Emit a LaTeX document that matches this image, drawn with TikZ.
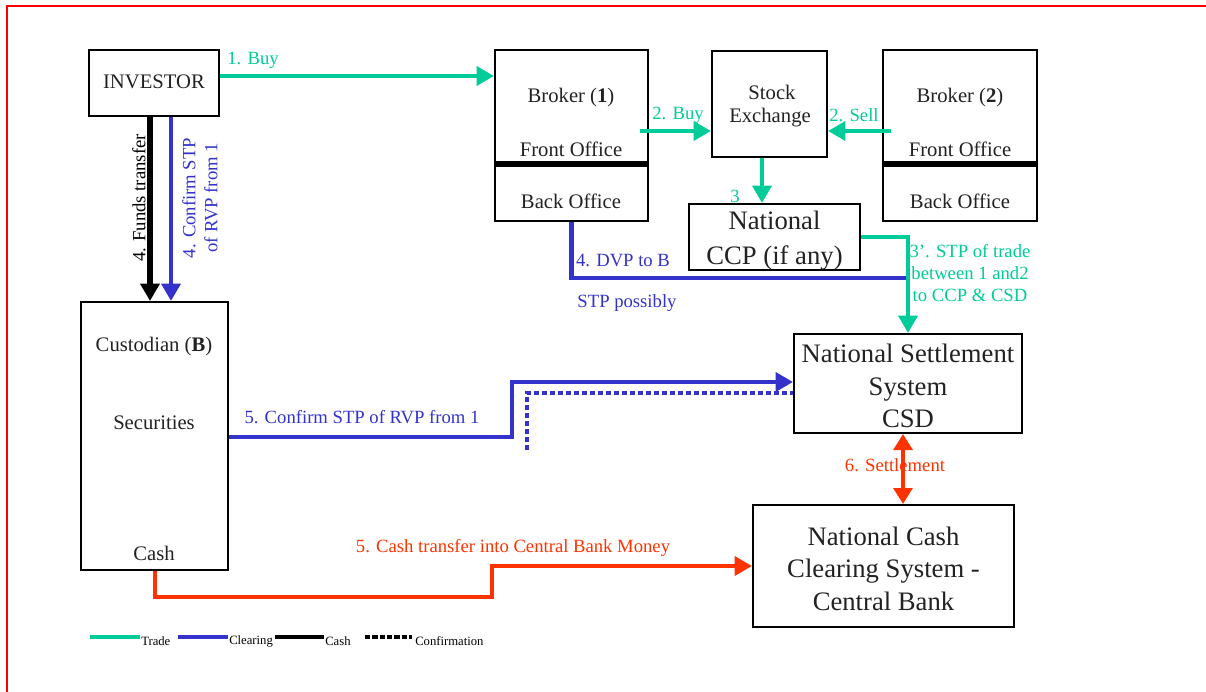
\documentclass[tikz,border=0pt]{standalone}
\usepackage{fontspec}
\setmainfont{Liberation Serif}
\usetikzlibrary{arrows.meta,calc}
\definecolor{cTrade}{RGB}{0,204,153}
\definecolor{cClear}{RGB}{51,51,204}
\definecolor{cCash}{RGB}{255,51,0}
\definecolor{cText}{RGB}{34,34,34}
\newcommand\myBody{\fontsize{15.5}{19.5}\selectfont}
\newcommand\myBig{\fontsize{20}{24.3}\selectfont}
\newcommand\myLab{\fontsize{14}{16.5}\selectfont}
\newcommand\myLeg{\fontsize{9.5}{11}\selectfont}
\begin{document}
\begin{tikzpicture}[x=0.75pt,y=-0.75pt,
  box/.style={draw=black,line width=1.5pt,inner sep=0pt},
  txt/.style={inner sep=0pt,font=\myBody,text=cText,align=center},
  bigtxt/.style={inner sep=0pt,font=\myBig,text=cText,align=center},
  lab/.style={inner sep=0pt,font=\myLab},
  tip/.style={-{Triangle[length=13pt,width=14pt]}},
  dtip/.style={{Triangle[length=12pt,width=14pt]}-{Triangle[length=12pt,width=14pt]}},
  tradeln/.style={draw=cTrade,line width=3.5pt,cTrade},
  clearln/.style={draw=cClear,line width=3.5pt,cClear},
  cashln/.style={draw=black,line width=4.5pt,black},
  redln/.style={draw=cCash,line width=3.5pt,cCash},
  legtxt/.style={inner sep=0pt,anchor=west,font=\myLeg}
]
\useasboundingbox (0,0) rectangle (1206,692);
\fill[white] (0,0) rectangle (1206,692);
% red frame
\draw[red,line width=2pt] (7,692) -- (7,6) -- (1206,6);

% boxes
\node[box,minimum width=130*0.75pt,minimum height=66*0.75pt] (inv) at (154,83) {};
\node[box,minimum width=153*0.75pt,minimum height=171*0.75pt] (b1) at (571.5,135.5) {};
\node[box,minimum width=115*0.75pt,minimum height=106*0.75pt] (se) at (769.5,104) {};
\node[box,minimum width=154*0.75pt,minimum height=171*0.75pt] (b2) at (960,135.5) {};
\node[box,minimum width=171*0.75pt,minimum height=66*0.75pt] (ccp) at (774.5,237) {};
\node[box,minimum width=147*0.75pt,minimum height=268*0.75pt] (cust) at (154.5,436) {};
\node[box,minimum width=228*0.75pt,minimum height=99*0.75pt] (nss) at (908,383.5) {};
\node[box,minimum width=261*0.75pt,minimum height=122*0.75pt] (nccs) at (883.5,566) {};

% box dividers
\coordinate (dv) at (0,164);
\draw[line width=4.5pt] (b1.west |- dv) -- (b1.east |- dv);
\draw[line width=4.5pt] (b2.west |- dv) -- (b2.east |- dv);

% box texts
\node[txt] (invt) at (154,82) {INVESTOR};
\node[txt] (b1t) at (571,98) {Broker (\textbf{1})};
\node[txt] (b1f) at (571,149) {Front Office};
\node[txt] (b1b) at (571,201) {Back Office};
\node[txt] (b2t) at (960,98) {Broker (\textbf{2})};
\node[txt] (b2f) at (960,149) {Front Office};
\node[txt] (b2b) at (960,201) {Back Office};
\node[txt] (set1) at (772,92) {Stock};
\node[txt] (set2) at (770,118) {Exchange};
\node[txt] (cut) at (154,347) {Custodian (\textbf{B})};
\node[txt] (cus) at (154,423) {Securities};
\node[txt] (cuc) at (154,553) {Cash};
\node[bigtxt] (ccpt) at (774.5,240.5) {National\\[2pt]CCP (if any)};
\node[bigtxt] (nsst) at (908,386) {National Settlement\\System\\CSD};
\node[bigtxt] (nccst) at (883.5,568.5) {National Cash\\Clearing System -\\Central Bank};

% coordinates
\coordinate (h76) at (0,76);
\coordinate (buy2s) at (640,131);
\coordinate (sell2s) at (891,131);
\coordinate (x762) at (762,0);
\coordinate (stp3) at (908,237);
\coordinate (dvpend) at (906,278);
\coordinate (xf) at (150,0);
\coordinate (xc) at (171,0);
\coordinate (s5a) at (512,437);
\coordinate (s5b) at (512,382);
\coordinate (d5) at (527,450);
\coordinate (d5b) at (527,393);
\coordinate (x903) at (903,0);
\coordinate (c1) at (155,597);
\coordinate (c2) at (492,566);

% trade connectors
\draw[tradeln,tip] (inv.east |- h76) -- (b1.west |- h76);
\draw[tradeln,tip] (buy2s) -- (se.west |- buy2s);
\draw[tradeln,tip] (sell2s) -- (se.east |- sell2s);
\draw[tradeln,tip] (se.south -| x762) -- (ccp.north -| x762);
% clearing DVP
\draw[clearln] (b1.south) |- (dvpend);
\draw[tradeln,tip] (ccp.east |- stp3) -- (stp3) -- (nss.north);

% investor -> custodian
\draw[cashln,tip] (inv.south -| xf) -- (cust.north -| xf);
\draw[clearln,tip] (inv.south -| xc) -- (cust.north -| xc);

% 5 confirm
\draw[clearln,dash pattern=on 4pt off 2pt] (d5) -- (d5b) -- (nss.west |- d5b);
\draw[clearln,tip] (cust.east |- s5a) -- (s5a) -- (s5b) -- (nss.west |- s5b);

% cash transfer
\draw[redln,tip] (cust.south -| c1) -- (c1) -- (c1 -| c2) -- (c2) -- (nccs.west |- c2);

% labels
\node[lab,text=cTrade] (l1) at (253,60) {1. Buy};
\node[lab,text=cTrade] (l2b) at (678,115) {2. Buy};
\node[lab,text=cTrade] (l2s) at (854,115) {2. Sell};
\node[lab,text=cTrade] (l3) at (735,196) {3};
\node[lab,text=cTrade,align=center] (l3p) at (970,273) {3'. STP of trade\\between 1 and2\\to CCP \& CSD};
\node[lab,text=cClear] (l4d) at (623,260) {4. DVP to B};
\node[lab,text=cClear] (l4s) at (627,303) {STP possibly};
\node[lab,text=black,rotate=90] (l4f) at (139,198) {4. Funds transfer};
\node[lab,text=cClear,rotate=90,align=center] (l4c) at (200,198) {4. Confirm STP\\of RVP from 1};
\node[lab,text=cClear] (l5c) at (362,417) {5. Confirm STP of RVP from 1};
\node[lab,text=cCash] (l5m) at (513,548) {5. Cash transfer into Central Bank Money};
\node[lab,text=cCash] (l6) at (895,465) {6. Settlement};

% settlement arrow (over label)
\draw[redln,dtip] (nss.south -| x903) -- (nccs.north -| x903);

% legend
\coordinate (g1a) at (90,637); \coordinate (g1b) at (140,637);
\coordinate (g2a) at (178,637); \coordinate (g2b) at (228,637);
\coordinate (g3a) at (275,637); \coordinate (g3b) at (324,637);
\coordinate (g4a) at (365,637); \coordinate (g4b) at (412,637);
\draw[draw=cTrade,line width=3pt] (g1a) -- (g1b);
\draw[draw=cClear,line width=3pt] (g2a) -- (g2b);
\draw[draw=black,line width=3pt] (g3a) -- (g3b);
\draw[draw=black,line width=3pt,dash pattern=on 4pt off 1.5pt] (g4a) -- (g4b);
\node[legtxt] (t1) at (141,641) {Trade};
\node[legtxt] (t2) at (229,641) {Clearing};
\node[legtxt] (t3) at (325,641) {Cash};
\node[legtxt] (t4) at (415,641) {Confirmation};
\end{tikzpicture}
\end{document}
